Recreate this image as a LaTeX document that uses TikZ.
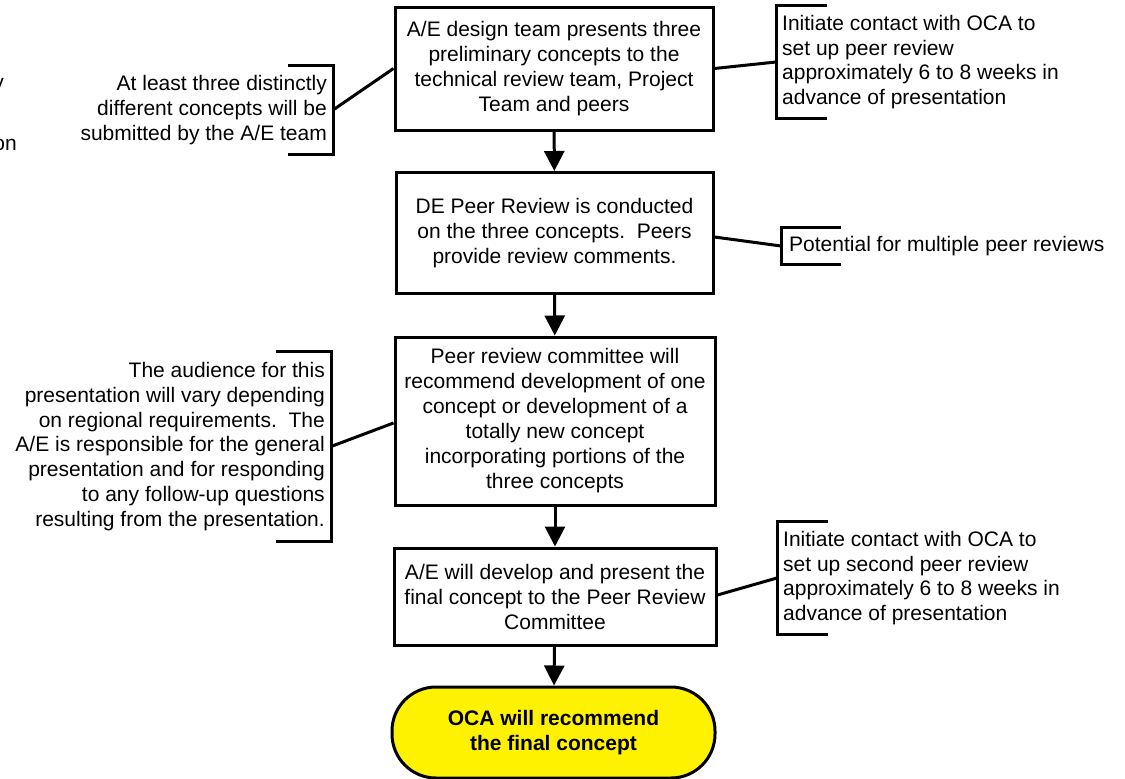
\documentclass[tikz,border=0pt]{standalone}
\usepackage{fontspec}
\setmainfont{Liberation Sans}
\usetikzlibrary{arrows.meta,calc}

\begin{document}
\begin{tikzpicture}[
        x=1pt, y=-1pt,
        stepbox/.style={draw, line width=3pt, fill=white, align=center, inner sep=0pt, font=\fontsize{21}{25}\selectfont},
        endbox/.style={stepbox, fill=yellow, rounded corners=44pt, font=\fontsize{21}{25}\selectfont\bfseries},
        note/.style={inner xsep=6pt, inner ysep=0pt, font=\fontsize{21}{24.7}\selectfont},
        bracket/.style={line width=3pt},
        link/.style={line width=3pt},
        arrow/.style={line width=3pt, -{Triangle[width=20pt,length=20pt]}}
    ]
        \useasboundingbox (0,0) rectangle (1125,779);

        % Cut-off text at the left edge
        \node[note, anchor=east] (fragy) at (10, 86) {y};
        \node[note, anchor=east] (fragon) at (23, 145) {on};

        % Main flow
        \node[stepbox, minimum width=318pt, minimum height=123pt] (present) at (554, 68.5) {A/E design team presents three\\preliminary concepts to the\\technical review team, Project\\Team and peers};

        \node[stepbox, minimum width=317pt, minimum height=121pt] (review) at (554.5, 233) {DE Peer Review is conducted\\on the three concepts.\ \ Peers\\provide review comments.};

        \node[stepbox, minimum width=320pt, minimum height=168pt] (recommend) at (555, 421) {Peer review committee will\\recommend development of one\\concept or development of a\\totally new concept\\incorporating portions of the\\three concepts};

        \node[stepbox, minimum width=322pt, minimum height=97pt] (develop) at (555, 596.5) {A/E will develop and present the\\final concept to the Peer Review\\Committee};

        \node[endbox, minimum width=323pt, minimum height=91pt] (final) at (553.5, 732.5) {OCA will recommend\\the final concept};

        % Side notes
        \node[note, anchor=east, align=right, minimum height=88pt] (concepts) at (333, 110) {At least three distinctly\\different concepts will be\\submitted by the A/E team};

        \node[note, anchor=east, align=right, minimum height=189pt] (audience) at (331, 446.5) {The audience for this\\presentation will vary depending\\on regional requirements.\ \ The\\A/E is responsible for the general\\presentation and for responding\\to any follow-up questions\\resulting from the presentation.};

        \node[note, anchor=west, align=left, minimum height=112pt] (contact) at (776, 62) {Initiate contact with OCA to\\set up peer review\\approximately 6 to 8 weeks in\\advance of presentation};

        \node[note, anchor=west, align=left, minimum height=36pt, inner xsep=8pt] (multiple) at (781, 246) {Potential for multiple peer reviews};

        \node[note, anchor=west, align=left, minimum height=112pt] (second) at (777, 578) {Initiate contact with OCA to\\set up second peer review\\approximately 6 to 8 weeks in\\advance of presentation};

        % Brackets
        \draw[bracket] ([xshift=-45pt]concepts.north east) -- (concepts.north east) -- (concepts.south east) -- ([xshift=-45pt]concepts.south east);
        \draw[bracket] ([xshift=-55pt]audience.north east) -- (audience.north east) -- (audience.south east) -- ([xshift=-55pt]audience.south east);
        \draw[bracket] ([xshift=51pt]contact.north west) -- (contact.north west) -- (contact.south west) -- ([xshift=51pt]contact.south west);
        \draw[bracket] ([xshift=60pt]multiple.north west) -- (multiple.north west) -- (multiple.south west) -- ([xshift=60pt]multiple.south west);
        \draw[bracket] ([xshift=51pt]second.north west) -- (second.north west) -- (second.south west) -- ([xshift=51pt]second.south west);

        % Connecting lines
        \draw[link] (present.west) -- (concepts.east);
        \draw[link] (present.east) -- (contact.west);
        \draw[link] ([yshift=-4pt]review.east) -- (multiple.west);
        \draw[link] ([yshift=-2pt]recommend.west) -- (audience.east);
        \draw[link] ([yshift=1.5pt]develop.east) -- (second.west);

        % Flow arrows
        \draw[arrow] (present) -- (review);
        \draw[arrow] (review) -- (recommend);
        \draw[arrow] (recommend) -- (develop);
        \draw[arrow] (develop) -- (final);
    \end{tikzpicture}
\end{document}
